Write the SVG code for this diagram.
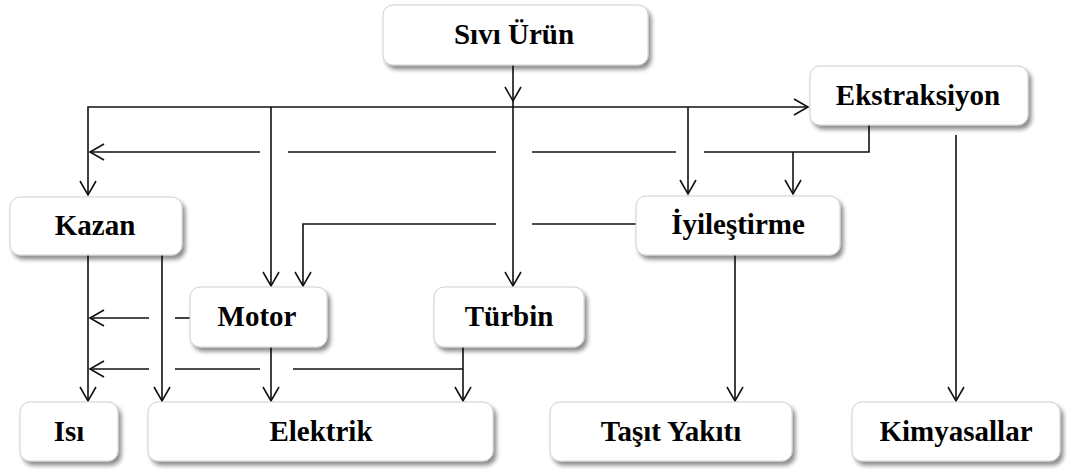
<svg xmlns="http://www.w3.org/2000/svg" width="1067" height="470" viewBox="0 0 1067 470">
  <defs>
    <filter id="shadow" x="-10%" y="-20%" width="125%" height="150%">
      <feDropShadow dx="3" dy="4" stdDeviation="2.2" flood-color="#000" flood-opacity="0.45"/>
    </filter>
    <marker id="arrow" markerUnits="userSpaceOnUse" viewBox="-16 -10 18 20" refX="0" refY="0" markerWidth="18" markerHeight="20" orient="auto" overflow="visible">
      <path d="M-14,-8 L0,0 L-14,8" fill="none" stroke="#111" stroke-width="1.6"/>
    </marker>
    <style>
      .box { fill: #fff; stroke: #cfcfcf; stroke-width: 1; filter: url(#shadow); }
      .label { font-family: "Liberation Serif", "Times New Roman", serif; font-weight: bold; font-size: 29px; fill: #000; text-anchor: middle; }
      .wire { fill: none; stroke: #111; stroke-width: 1.6; }
      .arr { marker-end: url(#arrow); }
    </style>
  </defs>

  <rect width="1067" height="470" fill="#fff"/>

  <!-- connectors -->
  <g id="connectors" class="wire">
    <!-- liquid product feed -->
    <path class="wire" d="M513,65 V101 V286" marker-mid="url(#arrow)" marker-end="url(#arrow)"/>
    <!-- distribution line -->
    <path class="wire arr" d="M513,107 H808"/>
    <path class="wire arr" d="M513,107 H88 V195"/>
    <path class="wire arr" d="M271,107 V286"/>
    <path class="wire arr" d="M688,107 V194"/>
    <!-- extraction return line -->
    <path class="wire" d="M869,125 V152 H704"/>
    <path class="wire arr" d="M793,152 V194"/>
    <path class="wire" d="M676,152 H532"/>
    <path class="wire" d="M496,152 H288"/>
    <path class="wire arr" d="M260,152 H90"/>
    <!-- upgrading to motor -->
    <path class="wire" d="M636,224 H532"/>
    <path class="wire arr" d="M496,224 H303 V286"/>
    <!-- extraction to chemicals -->
    <path class="wire arr" d="M956,135 V401"/>
    <!-- upgrading to vehicle fuel -->
    <path class="wire arr" d="M735,255 V401"/>
    <!-- boiler outputs -->
    <path class="wire arr" d="M88,255 V401"/>
    <path class="wire arr" d="M162,255 V401"/>
    <!-- motor outputs -->
    <path class="wire" d="M190,318 H175"/>
    <path class="wire arr" d="M149,318 H90"/>
    <path class="wire arr" d="M271,347 V401"/>
    <!-- turbine outputs -->
    <path class="wire arr" d="M463,347 V401"/>
    <path class="wire" d="M463,369 H293"/>
    <path class="wire" d="M260,369 H175"/>
    <path class="wire arr" d="M149,369 H90"/>
  </g>

  <g id="sivi-urun">
    <rect class="box" x="383" y="5" width="265" height="60" rx="10"/>
    <text class="label" x="514" y="44">Sıvı Ürün</text>
  </g>
  <g id="ekstraksiyon">
    <rect class="box" x="810" y="66" width="218" height="59" rx="10"/>
    <text class="label" x="918" y="105">Ekstraksiyon</text>
  </g>
  <g id="kazan">
    <rect class="box" x="10" y="197" width="172" height="58" rx="10"/>
    <text class="label" x="95" y="235">Kazan</text>
  </g>
  <g id="iyilestirme">
    <rect class="box" x="636" y="196" width="204" height="59" rx="10"/>
    <text class="label" x="738" y="234">İyileştirme</text>
  </g>
  <g id="motor">
    <rect class="box" x="190" y="287" width="137" height="60" rx="10"/>
    <text class="label" x="257" y="326">Motor</text>
  </g>
  <g id="turbin">
    <rect class="box" x="434" y="287" width="150" height="60" rx="10"/>
    <text class="label" x="509" y="326">Türbin</text>
  </g>
  <g id="isi">
    <rect class="box" x="20" y="402" width="98" height="59" rx="10"/>
    <text class="label" x="69" y="441">Isı</text>
  </g>
  <g id="elektrik">
    <rect class="box" x="148" y="402" width="345" height="59" rx="10"/>
    <text class="label" x="321" y="441">Elektrik</text>
  </g>
  <g id="tasit-yakiti">
    <rect class="box" x="550" y="402" width="242" height="59" rx="10"/>
    <text class="label" x="671" y="441">Taşıt Yakıtı</text>
  </g>
  <g id="kimyasallar">
    <rect class="box" x="852" y="402" width="208" height="59" rx="10"/>
    <text class="label" x="956" y="441">Kimyasallar</text>
  </g>
</svg>
